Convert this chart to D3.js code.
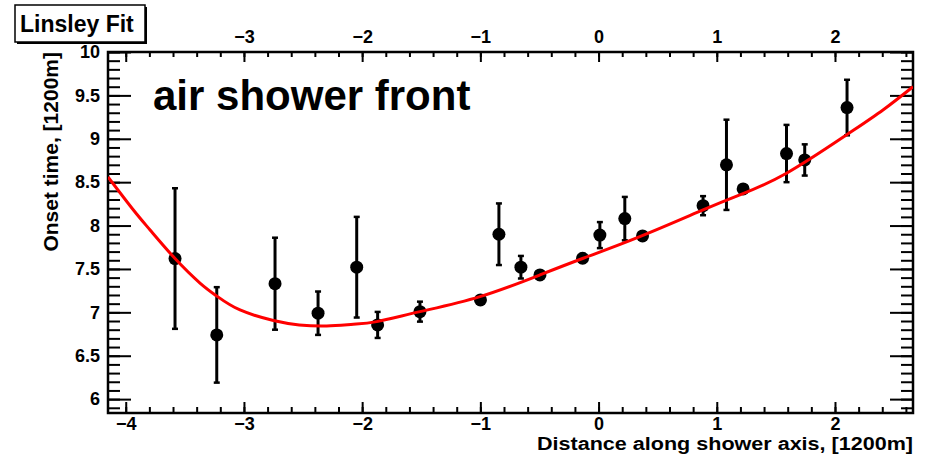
<!DOCTYPE html>
<html>
<head>
<meta charset="utf-8">
<script src="https://cdn.jsdelivr.net/npm/d3@7"></script>
<style>
  body { margin: 0; background: #fff; }
  svg { display: block; font-family: "Liberation Sans", Arial, sans-serif; font-weight: bold; }
</style>
</head>
<body>
<div id="chart"></div>
<script>
const WIDTH = 927;
const HEIGHT = 458;

// measured points (distance, onset time, error)
const distance = [-3.583, -3.230, -2.737, -2.373, -2.046, -1.869, -1.511, -0.999, -0.843, -0.657, -0.496,
                  -0.135, 0.011, 0.222, 0.372, 0.884, 1.082, 1.223, 1.590, 1.744, 2.102];
const onset    = [7.62, 6.74, 7.33, 6.99, 7.52, 6.855, 7.008, 7.143, 7.90, 7.52, 7.431,
                  7.623, 7.89, 8.08, 7.88, 8.229, 8.70, 8.422, 8.83, 8.756, 9.36];
const onsetErr = [0.81, 0.55, 0.53, 0.25, 0.58, 0.15, 0.115, 0.03, 0.355, 0.13, 0.04,
                  0.05, 0.15, 0.25, 0.04, 0.11, 0.52, 0.04, 0.33, 0.18, 0.32];

// red fit curve
const fitX = [-4.15, -3.935, -3.794, -3.583, -3.372, -3.230, -3.033, -2.751, -2.532, -2.300, -2.075,
              -1.877, -1.511, -1.004, -0.496, -0.130, 0.349, 0.884, 1.195, 1.590, 2.097, 2.406, 2.66];
const fitY = [8.56, 8.179, 7.949, 7.620, 7.338, 7.188, 7.027, 6.906, 6.855, 6.843, 6.862,
              6.893, 7.008, 7.181, 7.431, 7.623, 7.872, 8.180, 8.353, 8.603, 9.044, 9.332, 9.60];

// axis ticks
const xMajor = [-4, -3, -2, -1, 0, 1, 2];
const yMajor = [6, 6.5, 7, 7.5, 8, 8.5, 9, 9.5, 10];
const xDomain = [-4.15, 2.66];
const yDomain = [5.84, 10.0];

const plot = {left: 108, right: 913, top: 52, bottom: 413};

const x = d3.scaleLinear().domain(xDomain).range([plot.left, plot.right]);
const y = d3.scaleLinear().domain(yDomain).range([plot.bottom, plot.top]);

// minor ticks: 0.2 on x, 0.1 on y
const xMinor = d3.range(-21, 14).map(i => i / 5).filter(v => v >= xDomain[0] && v <= xDomain[1]);
const yMinor = d3.range(59, 101).map(i => i / 10).filter(v => v >= yDomain[0] && v <= yDomain[1]);

const svg = d3.select('#chart').append('svg')
  .attr('width', WIDTH)
  .attr('height', HEIGHT);

svg.append('defs').append('clipPath').attr('id', 'plotclip')
  .append('rect')
  .attr('x', plot.left).attr('y', plot.top)
  .attr('width', plot.right - plot.left).attr('height', plot.bottom - plot.top);

// axes (ticks point inward, like ROOT)
function styleAxis(g, size) {
  g.select('.domain').remove();
  g.selectAll('.tick line').attr('stroke', '#000').attr('stroke-width', 2);
  g.selectAll('.tick text').attr('fill', '#000').style('font-size', size + 'px').style('font-weight', 'bold');
}

// bottom
svg.append('g').attr('transform', `translate(0,${plot.bottom})`)
  .call(d3.axisBottom(x).tickValues(xMinor).tickSize(-6).tickFormat(''))
  .call(g => styleAxis(g, 18));
svg.append('g').attr('transform', `translate(0,${plot.bottom})`)
  .call(d3.axisBottom(x).tickValues(xMajor).tickSize(-11).tickPadding(4).tickFormat(d3.format('d')))
  .call(g => styleAxis(g, 18));
// top (the -4 label sits under the "Linsley Fit" box)
svg.append('g').attr('transform', `translate(0,${plot.top})`)
  .call(d3.axisTop(x).tickValues(xMinor).tickSize(-5).tickFormat(''))
  .call(g => styleAxis(g, 18));
svg.append('g').attr('transform', `translate(0,${plot.top})`)
  .call(d3.axisTop(x).tickValues(xMajor).tickSize(-10).tickPadding(9).tickFormat(d => d === -4 ? '' : d3.format('d')(d)))
  .call(g => styleAxis(g, 18));
// left
svg.append('g').attr('transform', `translate(${plot.left},0)`)
  .call(d3.axisLeft(y).tickValues(yMinor).tickSize(-12).tickFormat(''))
  .call(g => styleAxis(g, 18));
svg.append('g').attr('transform', `translate(${plot.left},0)`)
  .call(d3.axisLeft(y).tickValues(yMajor).tickSize(-23).tickPadding(8).tickFormat(d => d))
  .call(g => styleAxis(g, 18));
// right
svg.append('g').attr('transform', `translate(${plot.right},0)`)
  .call(d3.axisRight(y).tickValues(yMinor).tickSize(-12).tickFormat(''))
  .call(g => styleAxis(g, 18));
svg.append('g').attr('transform', `translate(${plot.right},0)`)
  .call(d3.axisRight(y).tickValues(yMajor).tickSize(-23).tickFormat(''))
  .call(g => styleAxis(g, 18));

// frame
svg.append('rect')
  .attr('x', plot.left).attr('y', plot.top)
  .attr('width', plot.right - plot.left).attr('height', plot.bottom - plot.top)
  .attr('fill', 'none').attr('stroke', '#000').attr('stroke-width', 2.5);

const points = distance.map((d, i) => ({x: d, y: onset[i], e: onsetErr[i]}));
const dataG = svg.append('g').attr('clip-path', 'url(#plotclip)');

// error bars
dataG.selectAll('.err')
  .data(points)
  .enter()
  .append('line')
  .attr('class', 'err')
  .attr('x1', d => x(d.x)).attr('x2', d => x(d.x))
  .attr('y1', d => y(d.y - d.e)).attr('y2', d => y(d.y + d.e))
  .attr('stroke', '#000').attr('stroke-width', 3);
dataG.selectAll('.cap')
  .data(points.flatMap(d => [d.y - d.e, d.y + d.e].map(v => ({x: d.x, v: v}))))
  .enter()
  .append('line')
  .attr('class', 'cap')
  .attr('x1', d => x(d.x) - 3).attr('x2', d => x(d.x) + 3)
  .attr('y1', d => y(d.v)).attr('y2', d => y(d.v))
  .attr('stroke', '#000').attr('stroke-width', 2.5);

// markers
dataG.selectAll('.dot')
  .data(points)
  .enter()
  .append('circle')
  .attr('class', 'dot')
  .attr('cx', d => x(d.x)).attr('cy', d => y(d.y))
  .attr('r', 6.5)
  .attr('fill', '#000');

// fit curve
const fitLine = d3.line()
  .x(d => x(d[0]))
  .y(d => y(d[1]))
  .curve(d3.curveNatural);
dataG.append('path')
  .attr('d', fitLine(fitX.map((v, i) => [v, fitY[i]])))
  .attr('fill', 'none')
  .attr('stroke', '#ff0000')
  .attr('stroke-width', 3);

// titles
svg.append('text')
  .attr('x', plot.right).attr('y', 450)
  .attr('text-anchor', 'end')
  .attr('textLength', 376)
  .attr('lengthAdjust', 'spacingAndGlyphs')
  .style('font-size', '18px')
  .text('Distance along shower axis, [1200m]');

svg.append('text')
  .attr('transform', 'translate(58,52) rotate(-90)')
  .attr('text-anchor', 'end')
  .style('font-size', '21px')
  .text('Onset time, [1200m]');

svg.append('text')
  .attr('x', 153).attr('y', 110)
  .style('font-size', '42px')
  .text('air shower front');

// "Linsley Fit" label box with shadow
svg.append('rect')
  .attr('x', 17).attr('y', 7).attr('width', 130).attr('height', 37)
  .attr('fill', '#000');
svg.append('rect')
  .attr('x', 15).attr('y', 5).attr('width', 130).attr('height', 37)
  .attr('fill', '#fff').attr('stroke', '#000').attr('stroke-width', 1.5);
svg.append('text')
  .attr('x', 20).attr('y', 32)
  .style('font-size', '23px')
  .text('Linsley Fit');
</script>
</body>
</html>
